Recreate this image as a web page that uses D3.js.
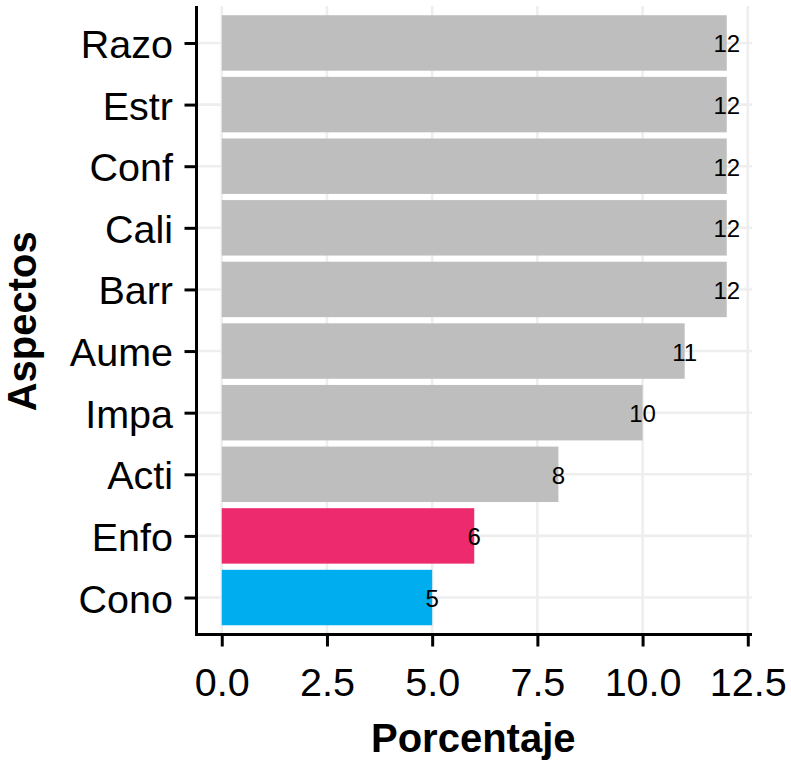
<!DOCTYPE html>
<html>
<head>
<meta charset="utf-8">
<script src="https://cdn.jsdelivr.net/npm/d3@7"></script>
<style>
  html, body { margin: 0; padding: 0; background: #ffffff; }
  svg { display: block; font-family: "Liberation Sans", Arial, sans-serif; }
</style>
</head>
<body>
<svg id="chart" width="791" height="762"></svg>
<script>
// ---- data ----
const categories = ["Razo", "Estr", "Conf", "Cali", "Barr", "Aume", "Impa", "Acti", "Enfo", "Cono"];
const values     = [12, 12, 12, 12, 12, 11, 10, 8, 6, 5];
const barColors  = ["#BEBEBE", "#BEBEBE", "#BEBEBE", "#BEBEBE", "#BEBEBE", "#BEBEBE", "#BEBEBE", "#BEBEBE", "#EE2A6E", "#00AEEF"];
const xTicks     = [0, 2.5, 5, 7.5, 10, 12.5];
const xTickLabels = ["0.0", "2.5", "5.0", "7.5", "10.0", "12.5"];
const xTitle = "Porcentaje";
const yTitle = "Aspectos";

// ---- layout ----
const panel = { left: 196.5, right: 752, top: 6, bottom: 634.5 };
const svg = d3.select("#chart");

const x = d3.scaleLinear().domain([-0.6, 12.6]).range([panel.left, panel.right]);
// discrete scale with 0.6 expansion each side
const step = (panel.bottom - panel.top) / (categories.length - 1 + 1.2);
const yPos = d3.scalePoint().domain(categories)
  .range([panel.top + 0.6 * step, panel.bottom - 0.6 * step]);
const barH = step * 0.9;

// grid
const grid = svg.append("g");
grid.selectAll("line.vg").data(xTicks).join("line")
  .attr("x1", d => x(d)).attr("x2", d => x(d))
  .attr("y1", panel.top).attr("y2", panel.bottom)
  .attr("stroke", "#EEEEEE").attr("stroke-width", 2.6);
grid.selectAll("line.hg").data(categories).join("line")
  .attr("x1", panel.left).attr("x2", panel.right)
  .attr("y1", d => yPos(d)).attr("y2", d => yPos(d))
  .attr("stroke", "#EEEEEE").attr("stroke-width", 2.6);

// bars
const data = categories.map((c, i) => ({ c, v: values[i], col: barColors[i] }));
svg.append("g").selectAll("rect").data(data).join("rect")
  .attr("x", x(0))
  .attr("y", d => yPos(d.c) - barH / 2)
  .attr("width", d => x(d.v) - x(0))
  .attr("height", barH)
  .attr("fill", d => d.col);

// value labels
svg.append("g").selectAll("text").data(data).join("text")
  .attr("x", d => x(d.v))
  .attr("y", d => yPos(d.c) + 9.5)
  .attr("text-anchor", "middle")
  .attr("font-size", 24)
  .attr("fill", "#000")
  .text(d => d.v);

// axes
const xAxis = d3.axisBottom(x).tickValues(xTicks)
  .tickFormat((d, i) => xTickLabels[i]).tickSize(12).tickPadding(6).tickSizeOuter(0);
const gx = svg.append("g").attr("transform", `translate(0,${panel.bottom})`).call(xAxis);
gx.select(".domain").attr("stroke", "#000").attr("stroke-width", 3)
  .attr("d", `M${panel.left - 1.5},0H${panel.right}`);
gx.selectAll(".tick line").attr("stroke", "#000").attr("stroke-width", 3);
gx.selectAll(".tick text").attr("font-size", 39.5).attr("fill", "#000")
  .attr("font-family", "Liberation Sans, Arial, sans-serif").attr("dy", null).attr("y", 61);

const yAxis = d3.axisLeft(yPos).tickSize(12).tickPadding(12).tickSizeOuter(0);
const gy = svg.append("g").attr("transform", `translate(${panel.left},0)`).call(yAxis);
gy.select(".domain").attr("stroke", "#000").attr("stroke-width", 3)
  .attr("d", `M0,${panel.top}V${panel.bottom + 1.5}`);
gy.selectAll(".tick line").attr("stroke", "#000").attr("stroke-width", 3);
gy.selectAll(".tick text").attr("font-size", 39.5).attr("fill", "#000")
  .attr("font-family", "Liberation Sans, Arial, sans-serif").attr("dy", null).attr("y", 14.5)
  .attr("x", -23.5);

// titles
svg.append("text")
  .attr("x", (panel.left + panel.right) / 2 - 1)
  .attr("y", 752)
  .attr("text-anchor", "middle")
  .attr("font-size", 40).attr("font-weight", "bold")
  .text(xTitle);

svg.append("text")
  .attr("transform", `translate(36,${(panel.top + panel.bottom) / 2 + 1}) rotate(-90)`)
  .attr("text-anchor", "middle")
  .attr("font-size", 40).attr("font-weight", "bold")
  .text(yTitle);
</script>
</body>
</html>
